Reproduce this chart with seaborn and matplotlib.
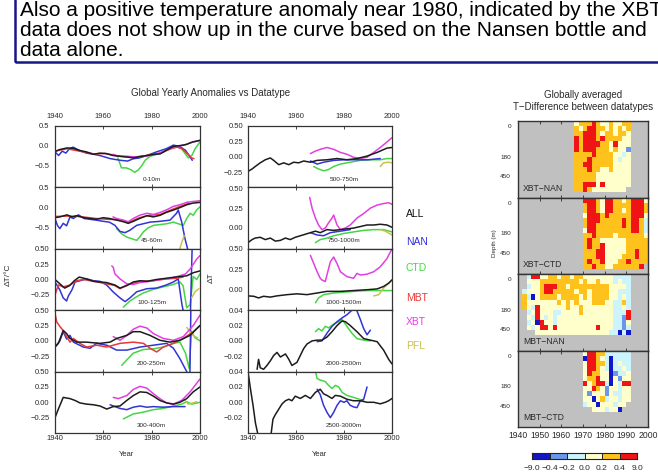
import numpy as np
import pandas as pd
import matplotlib
matplotlib.use("Agg")
import matplotlib.pyplot as plt
import seaborn as sns
from matplotlib.colors import ListedColormap
from matplotlib.patches import Rectangle

# ------------------------------------------------------------------ text
SLIDE_LINES = ["Also a positive temperature anomaly near 1980, indicated by the XBT",
               "data does not show up in the curve based on the Nansen bottle and",
               "data alone."]
TITLE_LEFT = "Global Yearly Anomalies vs Datatype"
TITLE_RIGHT = ["Globally averaged", "T\u2212Difference between datatypes"]
LEGEND_NAMES = ["ALL", "NAN", "CTD", "MBT", "XBT", "PFL"]
YEAR_TICKS = [1940, 1960, 1980, 2000]
HEAT_YEAR_TICKS = [1940, 1950, 1960, 1970, 1980, 1990, 2000]
DEPTH_LABELS = ["0", "180", "450"]
CB_LABELS = ["\u22129.0", "\u22120.4", "\u22120.2", "0.0", "0.2", "0.4", "9.0"]

# ------------------------------------------------------------------ data: left column
L1_ALL_yr = [1940,1942,1945,1947.5,1950,1953,1956,1958.5,1961,1964,1967,1970,1972.5,1975,1978,1981,1983.5,1986,1989,1992,1994.5,1997,2000]
L1_ALL_v = [-0.14,-0.09,-0.05,-0.06,-0.11,-0.15,-0.21,-0.18,-0.19,-0.24,-0.26,-0.28,-0.30,-0.27,-0.24,-0.21,-0.20,-0.11,-0.01,0.01,0.04,0.10,0.14]
L1_NAN_yr = [1940,1941.5,1943,1944.5,1946,1947.5,1950,1953,1956,1958.5,1963,1967,1970,1972.5,1975,1978,1982,1986,1989,1991.5,1994,1995.5,1996.8]
L1_NAN_v = [-0.15,-0.24,-0.13,-0.18,-0.07,-0.03,-0.11,-0.18,-0.21,-0.24,-0.32,-0.36,-0.38,-0.32,-0.30,-0.24,-0.15,-0.07,0.02,-0.01,-0.11,-0.24,-0.36]
L1_CTD_yr = [1966,1967.5,1969.5,1971.5,1973,1974.5,1976,1977.3,1979.3,1982,1985,1987.5,1990.3,1992.4,1993.8,1995.2,1996.6,1998,2000]
L1_CTD_v = [-0.30,-0.55,-0.55,-0.60,-0.66,-0.60,-0.49,-0.36,-0.26,-0.21,-0.15,-0.07,-0.01,-0.07,-0.19,-0.30,-0.24,-0.07,0.10]
L1_MBT_yr = [1940,1945,1950,1956,1961,1967,1972.5,1978,1983.5,1988,1990.5,1992.5,1994.5,1996.5,1997.5]
L1_MBT_v = [-0.13,-0.07,-0.13,-0.20,-0.19,-0.26,-0.28,-0.24,-0.18,-0.07,-0.03,-0.07,-0.18,-0.30,-0.32]
L1_XBT_yr = [1964,1966,1970,1974,1978,1982,1986,1990,1993.5,1996,2000]
L1_XBT_v = [-0.21,-0.26,-0.26,-0.28,-0.25,-0.21,-0.11,-0.01,0.02,0.08,0.14]

L2_ALL_yr = [1940,1942,1945,1947,1949,1952,1954.5,1957,1960,1962.5,1965.5,1968.3,1970.3,1972.4,1975,1978,1980.7,1983.5,1986,1989,1991.7,1994.5,1997,2000]
L2_ALL_v = [-0.25,-0.23,-0.18,-0.23,-0.20,-0.25,-0.27,-0.29,-0.25,-0.27,-0.31,-0.35,-0.39,-0.34,-0.27,-0.20,-0.23,-0.19,-0.12,-0.06,0.00,0.07,0.11,0.13]
L2_NAN_yr = [1940,1941,1942,1943.4,1944.8,1946.2,1947.6,1949.7,1952,1954.5,1957,1960,1962.5,1964.8,1966.9,1969,1971,1973.8,1976.5,1979.3,1983.5,1987.6,1990.3,1991,1992.4,1993.8,1995.2]
L2_NAN_v = [-0.27,-0.44,-0.52,-0.39,-0.45,-0.23,-0.27,-0.18,-0.27,-0.29,-0.31,-0.34,-0.36,-0.44,-0.59,-0.62,-0.56,-0.44,-0.40,-0.36,-0.34,-0.31,-0.14,-0.06,-0.35,-0.77,-1.10]
L2_CTD_yr = [1965.5,1967.6,1969.7,1971.7,1973.8,1975,1976.6,1978.6,1980.7,1983.5,1986.2,1989,1991,1993.1,1994.5,1995.9,1997.2,1998.6,2000]
L2_CTD_v = [-0.52,-0.65,-0.73,-0.77,-0.81,-0.73,-0.60,-0.50,-0.44,-0.42,-0.40,-0.36,-0.40,-0.44,-0.27,-0.14,-0.19,-0.06,0.02]
L2_PFL_yr = [1991.5,1992.5,1993.5]
L2_PFL_v = [-1.05,-0.85,-0.70]
L2_MBT_yr = [1940,1945,1950,1957,1962,1967,1970.3,1975,1979,1983.5,1987.5,1991.7,1995.5]
L2_MBT_v = [-0.22,-0.21,-0.22,-0.27,-0.29,-0.30,-0.37,-0.25,-0.19,-0.17,-0.07,0.03,0.11]
L2_XBT_yr = [1964,1965.5,1968.3,1970.3,1972.4,1975,1978,1980.7,1983.5,1986,1989,1991.7,1994.5,1997,2000]
L2_XBT_v = [-0.23,-0.27,-0.31,-0.35,-0.27,-0.19,-0.14,-0.17,-0.12,-0.06,0.03,0.07,0.13,0.15,0.17]

L3_ALL_yr = [1940,1942,1944,1946,1948,1950,1953,1956,1958.6,1961.4,1964.8,1966.9,1969.7,1972.4,1975.2,1978,1982,1986,1990,1994.5,1997.2,2000]
L3_ALL_v = [0.00,-0.07,-0.14,-0.10,-0.02,0.04,0.01,-0.03,-0.04,-0.05,-0.09,-0.14,-0.10,-0.04,-0.02,-0.03,0.00,0.02,0.04,0.06,0.11,0.14]
L3_NAN_yr = [1940,1942,1943.4,1944.8,1945.5,1947,1948.3,1950.3,1953,1956,1958.6,1961.4,1964,1966.9,1969,1971,1973.8,1978,1982,1986,1989,1991,1992.5,1993.5,1996,1996.8]
L3_NAN_v = [-0.04,-0.17,-0.30,-0.35,-0.27,-0.17,-0.04,-0.02,0.01,-0.02,-0.03,-0.09,-0.20,-0.30,-0.36,-0.30,-0.20,-0.15,-0.14,-0.09,-0.04,0.01,-0.40,-0.60,-0.60,0.60]
L3_CTD_yr = [1968.3,1971,1973.8,1976.5,1980.7,1984.8,1989,1991.7,1993,1994.5,1995.9,1997.2,1998.6,2000]
L3_CTD_v = [-0.45,-0.35,-0.28,-0.22,-0.16,-0.12,-0.08,-0.04,-0.10,-0.46,-0.41,0.05,0.00,0.09]
L3_MBT_yr = [1940,1941.4,1943.4,1946.2,1949,1951.7,1956,1961.4,1964.8,1966.9,1969.7,1975.2,1980.7,1986.2,1990.3,1993]
L3_MBT_v = [-0.25,-0.09,-0.12,-0.09,-0.02,0.00,-0.03,-0.07,-0.10,-0.15,-0.09,-0.03,-0.02,0.01,0.02,0.04]
L3_XBT_yr = [1963.5,1964.1,1964.8,1966.9,1969.7,1972.4,1975.2,1979.3,1983.4,1987.6,1991.7,1994,1995.9,1998.6,2000]
L3_XBT_v = [0.22,0.20,0.09,0.01,-0.07,-0.08,-0.05,-0.03,0.00,0.02,0.06,0.09,0.17,0.33,0.39]
L3_PFL_yr = [1996.5,1998,1999.5]
L3_PFL_v = [-0.30,-0.20,-0.15]

L4_ALL_yr = [1940,1941.4,1943.4,1944.8,1946.2,1949,1953,1958.6,1962.8,1965.5,1969.7,1972.4,1975.2,1979.3,1983.4,1987.6,1991.7,1995.9,2000]
L4_ALL_v = [-0.10,-0.04,0.17,0.12,0.04,-0.02,-0.02,-0.04,-0.02,0.04,0.09,0.15,0.15,0.09,0.01,-0.02,0.01,0.09,0.25]
L4_NAN_yr = [1940,1942,1943.4,1944.8,1946.2,1947.6,1951.7,1954.5,1957.2,1961.4,1965.5,1969.7,1975.2,1980.7,1986.2,1989,1991.7,1994.5,1995.8,1996.4]
L4_NAN_v = [-0.10,0.00,0.15,0.03,0.09,-0.02,-0.10,-0.12,-0.04,-0.07,-0.15,-0.15,-0.10,-0.07,-0.04,-0.12,-0.29,-0.50,-0.60,1.00]
L4_CTD_yr = [1967.6,1969.7,1972.4,1976.6,1980.7,1984.8,1989,1991.7,1994,1995.5,1996.5,1998,2000]
L4_CTD_v = [-0.40,-0.31,-0.20,-0.14,-0.13,-0.10,-0.04,-0.02,-0.20,-0.45,0.15,0.05,0.00]
L4_MBT_yr = [1940,1940.7,1942.1,1943.4,1944.8,1946.2,1947.6,1950.3,1953.1,1957.2,1961.4,1966.9,1972.4,1976.6,1979.3,1982.1,1984.8,1989,1993.1,1997.2,2000]
L4_MBT_v = [0.45,0.31,0.23,0.17,0.07,-0.02,0.04,-0.04,-0.10,-0.07,-0.10,-0.04,-0.02,-0.04,-0.12,-0.18,-0.10,-0.04,0.04,0.15,0.25]
L4_XBT_yr = [1964.1,1966.9,1969.7,1972.4,1975.2,1978,1980.7,1984.8,1989,1993.1,1997.2,2000]
L4_XBT_v = [0.07,0.01,0.09,0.19,0.24,0.21,0.12,0.04,0.01,0.07,0.25,0.42]
L4_PFL_yr = [1994.5,1996,1997.5,1999]
L4_PFL_v = [0.22,0.14,0.08,0.05]

L5_ALL_yr = [1940,1941.4,1943.4,1944.8,1946.2,1948.3,1950.3,1953.1,1955.9,1958.6,1961.4,1964.1,1966.9,1969.7,1972.4,1975.2,1978,1980.7,1983.4,1986.2,1989,1991.7,1994.5,1997.2,2000]
L5_ALL_v = [-0.25,-0.11,0.08,0.07,0.06,0.03,-0.01,-0.03,-0.04,-0.06,-0.11,-0.07,-0.06,0.03,0.11,0.17,0.16,0.10,0.03,-0.01,-0.03,0.00,0.06,0.17,0.25]
L5_NAN_yr = [1962.8,1966.9,1969.7,1972.4,1975.2,1978,1980.7,1984.8,1989,1993.8]
L5_NAN_v = [-0.04,-0.10,-0.12,-0.08,-0.06,-0.08,-0.07,-0.08,-0.07,-0.07]
L5_CTD_yr = [1968.3,1972.4,1976.6,1980.7,1984.8,1989,1992.4,1994.5,1996.6,2000]
L5_CTD_v = [-0.27,-0.19,-0.16,-0.12,-0.10,-0.06,-0.03,0.01,-0.03,0.00]
L5_XBT_yr = [1964.1,1966.2,1969.7,1972.4,1975.2,1978,1980.7,1983.4,1986.2,1989,1992.4,1995.9,2000]
L5_XBT_v = [0.08,0.06,0.11,0.21,0.26,0.23,0.14,0.06,-0.01,-0.03,0.03,0.17,0.38]
L5_PFL_yr = [1993.8,1995.2,1997.2,1998.6]
L5_PFL_v = [0.03,-0.03,-0.01,0.01]

# ------------------------------------------------------------------ data: middle column
M1_ALL_yr = [1940,1941.7,1943,1945.1,1947.2,1949.3,1950.7,1952.8,1954.9,1957,1959,1961.1,1963.2,1966,1968.8,1972.9,1977.1,1981.2,1985.4,1989.6,1993.8,1997.9,2000]
M1_ALL_v = [-0.24,-0.20,-0.16,-0.10,-0.05,-0.02,-0.06,-0.13,-0.10,-0.13,-0.09,-0.10,-0.07,-0.09,-0.06,-0.05,-0.03,-0.05,-0.03,0.01,0.07,0.14,0.15]
M1_XBT_yr = [1966,1968,1970.1,1972.9,1975.7,1978.5,1981.2,1984,1986.8,1989.6,1992.4,1995.1,1997.9,2000]
M1_XBT_v = [0.05,0.09,0.12,0.15,0.12,0.07,0.04,-0.01,-0.03,-0.01,0.07,0.15,0.24,0.31]
M1_NAN_yr = [1966,1968.8,1971.5,1975.7,1980,1985,1990,1995.1]
M1_NAN_v = [-0.07,-0.12,-0.09,-0.06,-0.05,-0.05,-0.05,-0.03]
M1_CTD_yr = [1967.4,1969.4,1971.5,1973.5,1975.7,1978.5,1982.6,1986.8,1991,1995.1,1997.9,2000]
M1_CTD_v = [-0.16,-0.20,-0.23,-0.21,-0.16,-0.12,-0.09,-0.06,-0.05,-0.05,-0.03,-0.03]
M1_PFL_yr = [1995.1,1996.5,1998.6,2000]
M1_PFL_v = [-0.16,-0.10,-0.09,-0.10]

M2_ALL_yr = [1940,1941.7,1943,1945.1,1947.2,1949.3,1951.4,1953.5,1955.6,1957.6,1959.7,1961.8,1963.9,1966,1968.1,1970.1,1972.9,1975.7,1978.5,1981.2,1984,1986.8,1989.6,1992.4,1995.1,1997.9,2000]
M2_ALL_v = [-0.20,-0.16,-0.14,-0.13,-0.16,-0.14,-0.18,-0.17,-0.14,-0.16,-0.13,-0.11,-0.09,-0.07,-0.05,-0.07,-0.03,-0.04,-0.03,-0.02,-0.01,0.01,0.03,0.03,0.04,0.03,0.00]
M2_XBT_yr = [1965.7,1966.7,1968.1,1969.4,1970.8,1972.2,1973.6,1975,1975.7,1977.1,1978.5,1980.5,1982.6,1985.4,1988.2,1991,1993.8,1996.5,1998.6,2000]
M2_XBT_v = [0.39,0.25,0.12,0.03,-0.03,-0.01,0.06,0.12,0.16,0.03,-0.03,-0.01,0.03,0.12,0.18,0.25,0.29,0.31,0.32,0.30]
M2_NAN_yr = [1966,1968.8,1971.5,1974.3,1978.5,1982.6]
M2_NAN_v = [-0.07,-0.10,-0.11,-0.07,-0.05,-0.03]
M2_CTD_yr = [1968.1,1970.1,1972.9,1975.7,1979.9,1984,1988.2,1992.4,1996.5,2000]
M2_CTD_v = [-0.20,-0.16,-0.14,-0.11,-0.08,-0.06,-0.04,-0.03,-0.03,-0.06]
M2_PFL_yr = [1995.1,1997.2,2000]
M2_PFL_v = [-0.03,-0.05,-0.10]

M3_ALL_yr = [1940,1942.4,1944.4,1946.5,1949.3,1952.1,1956.3,1960.4,1964.6,1968.8,1972.9,1978.5,1984,1989.6,1993.8,1996.5,1998.6,2000]
M3_ALL_v = [-0.075,-0.08,-0.10,-0.08,-0.09,-0.075,-0.06,-0.05,-0.06,-0.04,-0.02,-0.02,-0.01,0.00,0.01,0.04,0.08,0.12]
M3_XBT_yr = [1966,1967.4,1968.8,1970.1,1970.8,1972.2,1972.9,1974.3,1975.7,1977.1,1978.5,1981.2,1984,1985.4,1986.8,1989.6,1992.4,1995.1,1997.9,2000]
M3_XBT_v = [0.42,0.32,0.22,0.14,0.12,0.10,0.18,0.34,0.40,0.32,0.22,0.16,0.14,0.20,0.18,0.19,0.22,0.28,0.38,0.50]
M3_CTD_yr = [1968.1,1969.4,1971.5,1975.7,1979.9,1984,1989.6,1995.1,2000]
M3_CTD_v = [-0.16,-0.10,-0.06,-0.04,-0.03,-0.02,-0.01,-0.01,-0.01]
M3_PFL_yr = [1992.4,1994.5,1996.5,1998.6,2000]
M3_PFL_v = [-0.075,-0.06,0.02,0.08,0.12]

M4_ALL_yr = [1943.8,1944.4,1945.1,1946.5,1947.9,1949.3,1950.7,1952.1,1953.5,1955.6,1957,1958.3,1960.4,1961.8,1963.2,1964.6,1966.7,1968.8,1970.8,1972.9,1975,1977.1,1979.2,1980.6,1982.6,1985.4,1988.2,1991,1993.8,1996.5,1998.6,2000]
M4_ALL_v = [-0.037,-0.024,-0.035,-0.037,-0.032,-0.026,-0.019,-0.015,-0.021,-0.017,-0.024,-0.032,-0.028,-0.019,-0.010,-0.004,0.000,0.001,0.001,0.005,0.012,0.020,0.026,0.025,0.020,0.012,0.003,0.001,-0.001,-0.012,-0.024,-0.030]
M4_NAN_yr = [1968.8,1970.8,1972.9,1975,1977.1,1979.2,1981.2,1983.3,1984.4,1985.4,1986.8,1988.2,1989.6,1991]
M4_NAN_v = [-0.001,0.000,0.010,0.019,0.025,0.030,0.034,0.040,0.045,0.039,0.028,0.016,0.008,0.014]
M4_CTD_yr = [1968.1,1969.4,1970.8,1972.2,1973.6,1975.7,1977.8,1979.2,1981.2,1983.3,1985.4,1988.2,1991]
M4_CTD_v = [0.012,0.016,0.013,0.019,0.017,0.022,0.025,0.028,0.019,0.010,0.003,0.001,0.000]

M5_ALL_yr = [1940,1941,1942.1,1943.1,1944,1945.1,1947.9,1949.3,1950.4,1951.4,1952.8,1954.2,1955.6,1957,1958.3,1959.7,1961.8,1963.9,1966,1968.1,1970.1,1971.5,1972.9,1975,1976.4,1978.5,1981.2,1984,1986.8,1989.6,1992.4,1995.1,1997.2,1998.6,2000]
M5_ALL_v = [0.040,0.018,-0.004,-0.027,-0.040,-0.058,-0.062,-0.049,-0.022,-0.016,-0.009,-0.002,0.002,0.004,0.002,0.008,0.005,0.009,0.005,0.013,0.017,0.011,0.009,0.005,0.009,0.008,0.004,0.002,0.002,0.000,0.000,-0.002,0.000,0.002,0.005]
M5_NAN_yr = [1968.8,1970.1,1971.5,1972.9,1974.3,1975.7,1977.1,1978.5,1980,1981.2,1982.6,1984,1985.4,1986.8,1988.2,1989.6]
M5_NAN_v = [0.017,0.010,-0.004,-0.013,-0.020,-0.013,-0.004,0.002,0.000,0.002,-0.004,-0.006,-0.007,0.002,0.004,0.020]
M5_CTD_yr = [1968.1,1968.8,1970.1,1972.2,1973.6,1975,1976.4,1977.8,1979.2,1981.2,1983.3,1985.4,1988.2]
M5_CTD_v = [0.040,0.031,0.029,0.027,0.022,0.018,0.022,0.020,0.013,0.009,0.007,0.005,0.002]

# ------------------------------------------------------------------ data: heat maps (2-year columns, depth rows)
# class codes: 0 <-0.4 | 1 -0.4..-0.2 | 2 -0.2..0 | 3 0..0.2 | 4 0.2..0.4 | 5 >0.4 | . no data
XBT_NAN_start = 1966
XBT_NAN_rows = ["3444543343344", "4345544343434", "4455543443443", "5455545444433",
                "5455554435333", "5455544434331", "4444544443323", "4445444443233",
                "4455444443333", "4445443343333", "4444433333333", "4444433333333",
                "4455535333333", "445433333333."]
XBT_CTD_start = 1970
XBT_CTD_rows = ["555435544345553", "455435544445554", "455435544345554", "355545444445553",
                "455544444545542", "455444444545542", "355444444445542", "445444434444443",
                "454433333344444", "454453333344444", "444553333344544", "444553333444544",
                "454453334454444", "44544334444445."]
MBT_NAN_start = 1942
MBT_NAN_rows = [".255334434434433333332222", ".333444444444343343332322", ".233455544344444444433332",
                "2333455444443443444433222", "4203444434444343444433232", "4333333343434333444332242",
                "4325333333433433333332232", ".235333223333433333332225", ".325323233333333333332215",
                ".230533233333333333332213", ".323553533333333353332212", "...3333333333333333322020."]
MBT_CTD_start = 1970
MBT_CTD_rows = ["35544222222", "05543202222", "35544202322", "35543202232", "35443301223",
                "34453303133", "53455203255", "33543133233", "31333132233", "33034233233",
                "2330333233.", "..3332330.."]

# ------------------------------------------------------------------ style
SERIES_ORDER = ["CTD", "NAN", "PFL", "MBT", "XBT", "ALL"]
COLORS = {"ALL": "#1c1c1c", "NAN": "#3434d6", "CTD": "#44d644",
          "MBT": "#e43a3a", "XBT": "#e040e0", "PFL": "#c8c24c"}
LEGEND_COLORS = {"ALL": "#111111", "NAN": "#3030e0", "CTD": "#3cdc3c",
                 "MBT": "#ee3636", "XBT": "#ee38ee", "PFL": "#c8c050"}
CAT_COLORS = ["#1414c8", "#6a96ec", "#cdf3fb", "#ffffcc", "#ffc21c", "#f01414"]
GRAY = "#c0c0c0"
TXT = "#2a2a2a"

sns.set_theme(style="white")
plt.rcParams["font.family"] = ["Liberation Sans", "DejaVu Sans"]

W, H = 658, 475
fig = plt.figure(figsize=(W / 100, H / 100), dpi=100)
fig.patch.set_facecolor("white")


def px_axes(x0, y0, x1, y1):
    return fig.add_axes([x0 / W, 1 - y1 / H, (x1 - x0) / W, (y1 - y0) / H])


def fmt(v, nd):
    return f"{v:.{nd}f}".replace("-", "\u2212")


LEFT_PANELS = [
    ("0-10m", (-1.04, 0.5), [0.5, 0.0, -0.5], 1,
     {"CTD": (L1_CTD_yr, L1_CTD_v), "NAN": (L1_NAN_yr, L1_NAN_v), "MBT": (L1_MBT_yr, L1_MBT_v),
      "XBT": (L1_XBT_yr, L1_XBT_v), "ALL": (L1_ALL_yr, L1_ALL_v)}),
    ("45-60m", (-1.02, 0.5), [0.5, 0.0, -0.5], 1,
     {"CTD": (L2_CTD_yr, L2_CTD_v), "NAN": (L2_NAN_yr, L2_NAN_v), "PFL": (L2_PFL_yr, L2_PFL_v),
      "MBT": (L2_MBT_yr, L2_MBT_v), "XBT": (L2_XBT_yr, L2_XBT_v), "ALL": (L2_ALL_yr, L2_ALL_v)}),
    ("100-125m", (-0.5, 0.5), [0.5, 0.25, 0.0, -0.25], 2,
     {"CTD": (L3_CTD_yr, L3_CTD_v), "NAN": (L3_NAN_yr, L3_NAN_v), "PFL": (L3_PFL_yr, L3_PFL_v),
      "MBT": (L3_MBT_yr, L3_MBT_v), "XBT": (L3_XBT_yr, L3_XBT_v), "ALL": (L3_ALL_yr, L3_ALL_v)}),
    ("200-250m", (-0.5, 0.5), [0.5, 0.25, 0.0, -0.25], 2,
     {"CTD": (L4_CTD_yr, L4_CTD_v), "NAN": (L4_NAN_yr, L4_NAN_v), "PFL": (L4_PFL_yr, L4_PFL_v),
      "MBT": (L4_MBT_yr, L4_MBT_v), "XBT": (L4_XBT_yr, L4_XBT_v), "ALL": (L4_ALL_yr, L4_ALL_v)}),
    ("300-400m", (-0.5, 0.5), [0.5, 0.25, 0.0, -0.25], 2,
     {"CTD": (L5_CTD_yr, L5_CTD_v), "NAN": (L5_NAN_yr, L5_NAN_v), "PFL": (L5_PFL_yr, L5_PFL_v),
      "XBT": (L5_XBT_yr, L5_XBT_v), "ALL": (L5_ALL_yr, L5_ALL_v)}),
]
MID_PANELS = [
    ("500-750m", (-0.5, 0.5), [0.5, 0.25, 0.0, -0.25], 2,
     {"CTD": (M1_CTD_yr, M1_CTD_v), "NAN": (M1_NAN_yr, M1_NAN_v), "PFL": (M1_PFL_yr, M1_PFL_v),
      "XBT": (M1_XBT_yr, M1_XBT_v), "ALL": (M1_ALL_yr, M1_ALL_v)}),
    ("750-1000m", (-0.28, 0.52), [0.5, 0.25, 0.0], 2,
     {"CTD": (M2_CTD_yr, M2_CTD_v), "NAN": (M2_NAN_yr, M2_NAN_v), "PFL": (M2_PFL_yr, M2_PFL_v),
      "XBT": (M2_XBT_yr, M2_XBT_v), "ALL": (M2_ALL_yr, M2_ALL_v)}),
    ("1000-1500m", (-0.25, 0.5), [0.5, 0.25, 0.0], 2,
     {"CTD": (M3_CTD_yr, M3_CTD_v), "PFL": (M3_PFL_yr, M3_PFL_v),
      "XBT": (M3_XBT_yr, M3_XBT_v), "ALL": (M3_ALL_yr, M3_ALL_v)}),
    ("2000-2500m", (-0.04, 0.04), [0.04, 0.02, 0.0, -0.02], 2,
     {"CTD": (M4_CTD_yr, M4_CTD_v), "NAN": (M4_NAN_yr, M4_NAN_v), "ALL": (M4_ALL_yr, M4_ALL_v)}),
    ("2500-3000m", (-0.04, 0.04), [0.04, 0.02, 0.0, -0.02], 2,
     {"CTD": (M5_CTD_yr, M5_CTD_v), "NAN": (M5_NAN_yr, M5_NAN_v), "ALL": (M5_ALL_yr, M5_ALL_v)}),
]


def draw_ts_column(panels, x0, x1, top, bottom, ypad):
    n = len(panels)
    h = (bottom - top) / n
    for i, (label, ylim, yticks, nd, series) in enumerate(panels):
        ax = px_axes(x0, top + i * h, x1, top + (i + 1) * h)
        frames = [pd.DataFrame({"year": yr, "value": v, "type": name})
                  for name, (yr, v) in series.items()]
        df = pd.concat(frames, ignore_index=True)
        order = [s for s in SERIES_ORDER if s in series]
        sns.lineplot(data=df, x="year", y="value", hue="type", hue_order=order,
                     palette=COLORS, estimator=None, legend=False, lw=1.1, ax=ax)
        ax.set_xlim(1940, 2000)
        ax.set_ylim(*ylim)
        ax.set_xticks(YEAR_TICKS)
        ax.set_xticklabels([str(t) for t in YEAR_TICKS])
        ax.set_yticks(yticks)
        ax.set_yticklabels([fmt(t, nd) for t in yticks])
        ax.set_xlabel("")
        ax.set_ylabel("")
        ax.tick_params(axis="both", direction="in", length=2, width=0.6, labelsize=5.5,
                       colors=TXT, top=True, bottom=True)
        ax.tick_params(axis="y", pad=ypad)
        ax.tick_params(axis="x", labeltop=(i == 0), labelbottom=(i == n - 1),
                       pad=(4 if i == 0 else 1.5))
        for s in ax.spines.values():
            s.set_visible(True)
            s.set_color("#333333")
            s.set_linewidth(0.9)
        ax.text(1980, 0.13, label, transform=ax.get_xaxis_transform(), ha="center",
                va="center", fontsize=4.6, color=TXT)


draw_ts_column(LEFT_PANELS, 55, 200, 126, 433, 4)
draw_ts_column(MID_PANELS, 248, 392, 126, 433, 3.5)

# ------------------------------------------------------------------ heat maps
N_ROWS, N_COLS = 15, 30
DEPTH_POS = [1.0, 7.0, 10.8]
CMAP = ListedColormap(CAT_COLORS)
HEAT_PANELS = [("XBT\u2212NAN", XBT_NAN_rows, XBT_NAN_start),
               ("XBT\u2212CTD", XBT_CTD_rows, XBT_CTD_start),
               ("MBT\u2212NAN", MBT_NAN_rows, MBT_NAN_start),
               ("MBT\u2212CTD", MBT_CTD_rows, MBT_CTD_start)]
htop, hbot = 121, 427
hh = (hbot - htop) / 4
for i, (label, rows, start) in enumerate(HEAT_PANELS):
    ax = px_axes(518, htop + i * hh, 648, htop + (i + 1) * hh)
    G = np.full((N_ROWS, N_COLS), np.nan)
    c0 = (start - 1940) // 2
    for r, s in enumerate(rows):
        for k, ch in enumerate(s):
            if ch != "." and c0 + k < N_COLS:
                G[r, c0 + k] = int(ch)
    sns.heatmap(G, ax=ax, cmap=CMAP, vmin=-0.5, vmax=5.5, cbar=False,
                xticklabels=False, yticklabels=False)
    ax.set_facecolor(GRAY)
    ax.set_xticks([(y - 1940) / 2 for y in HEAT_YEAR_TICKS])
    ax.set_xticklabels([str(y) for y in HEAT_YEAR_TICKS])
    ax.set_yticks(DEPTH_POS)
    ax.set_yticklabels(DEPTH_LABELS, rotation=0)
    ax.tick_params(axis="x", direction="in", length=2, width=0.6, top=True, bottom=True,
                   labelbottom=(i == 3), labeltop=False, labelsize=6.2, colors=TXT, pad=3)
    ax.tick_params(axis="y", direction="in", length=0, labelsize=4.6, colors=TXT, pad=5)
    for s in ax.spines.values():
        s.set_visible(True)
        s.set_color("#333333")
        s.set_linewidth(1.0)
    ax.text(0.04, 0.12, label, transform=ax.transAxes, ha="left", va="center",
            fontsize=6.2, color=TXT)

# colour bar
ax_cb = px_axes(532, 453, 637, 459)
sns.heatmap(np.arange(len(CAT_COLORS)).reshape(1, -1), ax=ax_cb, cmap=CMAP, vmin=-0.5,
            vmax=5.5, cbar=False, linewidths=0.7, linecolor="#222222",
            xticklabels=False, yticklabels=False)
ax_cb.set_xticks(np.arange(len(CB_LABELS)))
ax_cb.set_xticklabels(CB_LABELS)
ax_cb.set_yticks([])
ax_cb.tick_params(axis="x", length=0, labelsize=6, colors=TXT, pad=4)
for s in ax_cb.spines.values():
    s.set_visible(True)
    s.set_color("#222222")
    s.set_linewidth(0.8)

# ------------------------------------------------------------------ figure texts
fig.text(211 / W, 1 - 93 / H, TITLE_LEFT, ha="center", va="center", fontsize=7, color=TXT)
fig.text(583 / W, 1 - 95 / H, TITLE_RIGHT[0], ha="center", va="center", fontsize=7, color=TXT)
fig.text(583 / W, 1 - 107 / H, TITLE_RIGHT[1], ha="center", va="center", fontsize=7, color=TXT)
fig.text(8 / W, 1 - 275 / H, "\u0394T/\u00b0C", rotation=90, ha="center", va="center",
         fontsize=6, color=TXT)
fig.text(211 / W, 1 - 278 / H, "\u0394T", rotation=90, ha="center", va="center",
         fontsize=6, color=TXT)
fig.text(127 / W, 1 - 455 / H, "Year", ha="center", va="center", fontsize=5.5, color=TXT)
fig.text(320 / W, 1 - 455 / H, "Year", ha="center", va="center", fontsize=5.5, color=TXT)
fig.text(495 / W, 1 - 243 / H, "Depth (m)", rotation=90, ha="center", va="center",
         fontsize=4.5, color=TXT)

LEGEND_Y = [214, 242, 268, 298, 322, 346]
for name, yy in zip(LEGEND_NAMES, LEGEND_Y):
    fig.text(406 / W, 1 - yy / H, name, ha="left", va="center", fontsize=7.5,
             color=LEGEND_COLORS[name])

# slide text box
fig.add_artist(Rectangle((14.5 / W, 1 - 62 / H), 700 / W, 100 / H, transform=fig.transFigure,
                         facecolor="none", edgecolor="#161686", lw=1.8))
for line, base in zip(SLIDE_LINES, [16.5, 36.5, 55.5]):
    fig.text(20 / W, 1 - base / H, line, ha="left", va="baseline", fontsize=15,
             color="black")

fig.savefig("out.png", dpi=100)
